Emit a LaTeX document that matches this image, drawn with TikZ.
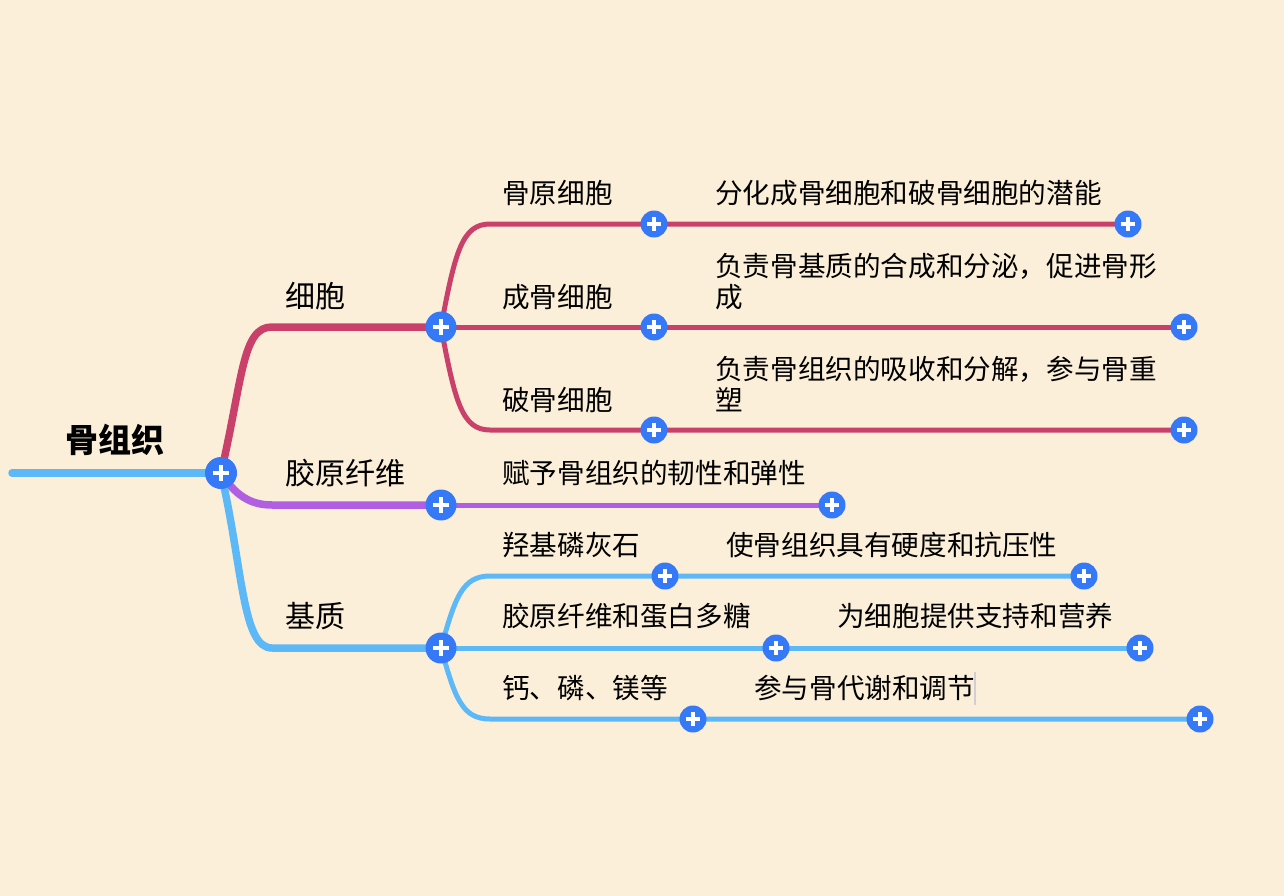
\documentclass[tikz,border=0pt]{standalone}
\usepackage{fontspec}
\newfontfamily\cjk{Noto Sans CJK SC}
\usetikzlibrary{positioning}

\definecolor{paper}{HTML}{FBEFD9}
\definecolor{rosy}{HTML}{C9416B}
\definecolor{lilac}{HTML}{B05FE3}
\definecolor{sky}{HTML}{5DB8F7}
\definecolor{knobblue}{HTML}{3579F6}
\definecolor{caretgrey}{HTML}{D2CED8}

\begin{document}
\begin{tikzpicture}[
    x=1pt, y=-1pt,
    topic/.style={font=\cjk\fontsize{27.6}{31}\selectfont, text=black, anchor=west, inner sep=0pt, align=left},
    maintopic/.style={topic, font=\cjk\fontsize{30}{36}\selectfont},
    roottopic/.style={font=\cjk\bfseries\fontsize{33}{38}\selectfont, text=black, inner sep=0pt},
    knob/.style={circle, fill=knobblue, inner sep=0pt, minimum size=#1pt,
        path picture={\draw[white, line width=4.5pt]
            (path picture bounding box.center) +(-0.25*#1,0) -- +(0.25*#1,0)
            +(0,-0.25*#1) -- +(0,0.25*#1);}},
    bigknob/.style={knob=31},
    smallknob/.style={knob=27},
    branch/.style={line width=7.5pt, line cap=round},
    twig/.style={line width=5pt, line cap=round}
]

\fill[paper] (0,0) rectangle (1284,896);
\useasboundingbox (0,0) rectangle (1284,896);

% hubs
\coordinate (tail) at (12,473);
\coordinate (root) at (221,473);
\coordinate (cell) at (441,327);
\coordinate (fiber) at (441,505);
\coordinate (ground) at (441,648);
\coordinate (cellA) at (654,224);
\coordinate (cellB) at (654,327);
\coordinate (cellC) at (654,430);
\coordinate (cellAend) at (1128,224);
\coordinate (cellBend) at (1184,327);
\coordinate (cellCend) at (1184,430);
\coordinate (fiberend) at (832,505);
\coordinate (groundA) at (665,576);
\coordinate (groundB) at (776,648);
\coordinate (groundC) at (693,719);
\coordinate (groundAend) at (1084,576);
\coordinate (groundBend) at (1140,648);
\coordinate (groundCend) at (1200,719);

% lines
\draw[branch, sky] (tail) -- (root);
\draw[branch, rosy] (root) .. controls +(22,-95) and +(-30,0) .. (272,327) -- (cell);
\draw[branch, lilac] (root) .. controls +(14,22) and +(-22,0) .. (272,505) -- (fiber);
\draw[branch, sky] (root) .. controls +(22,95) and +(-30,0) .. (272,648) -- (ground);

\draw[twig, rosy] (cell) .. controls +(14,-75) and +(-28,0) .. (490,224) -- (cellA) -- (cellAend);
\draw[twig, rosy] (cell) -- (cellB) -- (cellBend);
\draw[twig, rosy] (cell) .. controls +(14,75) and +(-28,0) .. (490,430) -- (cellC) -- (cellCend);
\draw[twig, lilac] (fiber) -- (fiberend);
\draw[twig, sky] (ground) .. controls +(14,-50) and +(-28,0) .. (490,576) -- (groundA) -- (groundAend);
\draw[twig, sky] (ground) -- (groundB) -- (groundBend);
\draw[twig, sky] (ground) .. controls +(14,50) and +(-28,0) .. (490,719) -- (groundC) -- (groundCend);

% knobs
\node[knob=32] (rootknob) at (root) {};
\node[bigknob] (cellknob) at (cell) {};
\node[bigknob] (fiberknob) at (fiber) {};
\node[bigknob] (groundknob) at (ground) {};
\node[smallknob] (cellAknob) at (cellA) {};
\node[smallknob] (cellBknob) at (cellB) {};
\node[smallknob] (cellCknob) at (cellC) {};
\node[smallknob] (cellAendknob) at (cellAend) {};
\node[smallknob] (cellBendknob) at (cellBend) {};
\node[smallknob] (cellCendknob) at (cellCend) {};
\node[smallknob] (fiberendknob) at (fiberend) {};
\node[smallknob] (groundAknob) at (groundA) {};
\node[smallknob] (groundBknob) at (groundB) {};
\node[smallknob] (groundCknob) at (groundC) {};
\node[smallknob] (groundAendknob) at (groundAend) {};
\node[smallknob] (groundBendknob) at (groundBend) {};
\node[smallknob] (groundCendknob) at (groundCend) {};

% labels
\node[roottopic] (bone) at (115,440) {骨组织};
\node[maintopic] (cells) at (285,296) {细胞};
\node[maintopic] (fibers) at (285,473) {胶原纤维};
\node[maintopic] (grounds) at (285,616) {基质};

\node[topic] (progenitor) at (502,193) {骨原细胞};
\node[topic] (progenitornote) at (715,193) {分化成骨细胞和破骨细胞的潜能};
\node[topic] (blast) at (502,297) {成骨细胞};
\node[topic] (blastnote) at (715,281.5) {负责骨基质的合成和分泌，促进骨形\\成};
\node[topic] (clast) at (502,400) {破骨细胞};
\node[topic] (clastnote) at (715,384.5) {负责骨组织的吸收和分解，参与骨重\\塑};

\node[topic] (fibernote) at (502,473) {赋予骨组织的韧性和弹性};

\node[topic] (apatite) at (502,545) {羟基磷灰石};
\node[topic] (apatitenote) at (726,545) {使骨组织具有硬度和抗压性};
\node[topic] (glycan) at (502,616) {胶原纤维和蛋白多糖};
\node[topic] (glycannote) at (837,616) {为细胞提供支持和营养};
\node[topic] (minerals) at (502,688) {钙、磷、镁等};
\node[topic] (mineralsnote) at (754,688) {参与骨代谢和调节};

\draw[caretgrey, line width=2pt] (975,672) -- (975,705);

\end{tikzpicture}
\end{document}
